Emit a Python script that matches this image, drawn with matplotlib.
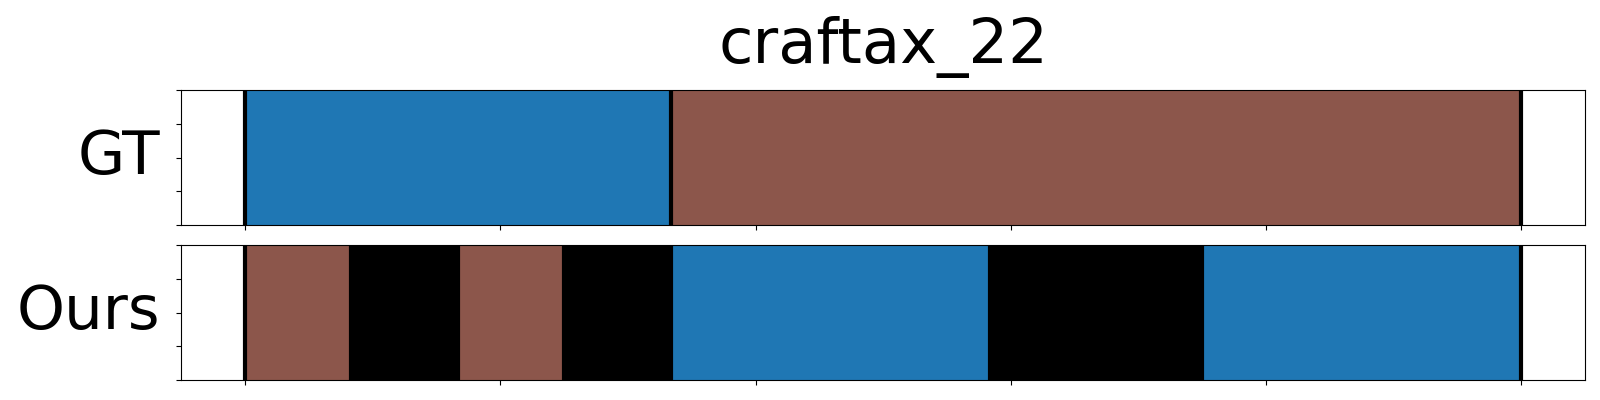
import matplotlib
matplotlib.use('Agg')
import matplotlib.pyplot as plt

# segmentation of craftax_22, 12 steps, x normalised to [0, 1]
n_steps = 12
gt_bounds = [0, 4, 12]
gt_classes = [0, 1]
ours_bounds = [0, 1, 2, 3, 4, 7, 9, 12]
ours_classes = [1, -1, 1, -1, 0, -1, 0]
class_colors = {0: '#1f77b4', 1: '#8c564b', -1: 'black'}
row_names = ['GT', 'Ours']

fig = plt.figure(figsize=(16, 4), dpi=100)
ax_gt = fig.add_axes([0.1133, 0.4375, 0.8775, 0.3367])
ax_ours = fig.add_axes([0.1133, 0.05, 0.8775, 0.3367])


def draw_row(ax, bounds, classes, name):
    for i, c in enumerate(classes):
        ax.axvspan(bounds[i] / n_steps, bounds[i + 1] / n_steps,
                   color=class_colors[c], lw=0)
    for b in bounds:
        ax.axvline(b / n_steps, color='black', lw=3)
    ax.set_xlim(-0.05, 1.05)
    ax.set_ylim(0, 1)
    ax.set_xticks([0, 0.2, 0.4, 0.6, 0.8, 1.0])
    ax.set_yticks([0, 0.25, 0.5, 0.75, 1.0])
    ax.tick_params(labelbottom=False, labelleft=False)
    ax.set_ylabel(name, fontsize=44, rotation=0, ha='right', va='center',
                  labelpad=12)


draw_row(ax_gt, gt_bounds, gt_classes, row_names[0])
draw_row(ax_ours, ours_bounds, ours_classes, row_names[1])
ax_gt.set_title('craftax_22', fontsize=45, pad=20)

fig.savefig('out.png', dpi=100)
